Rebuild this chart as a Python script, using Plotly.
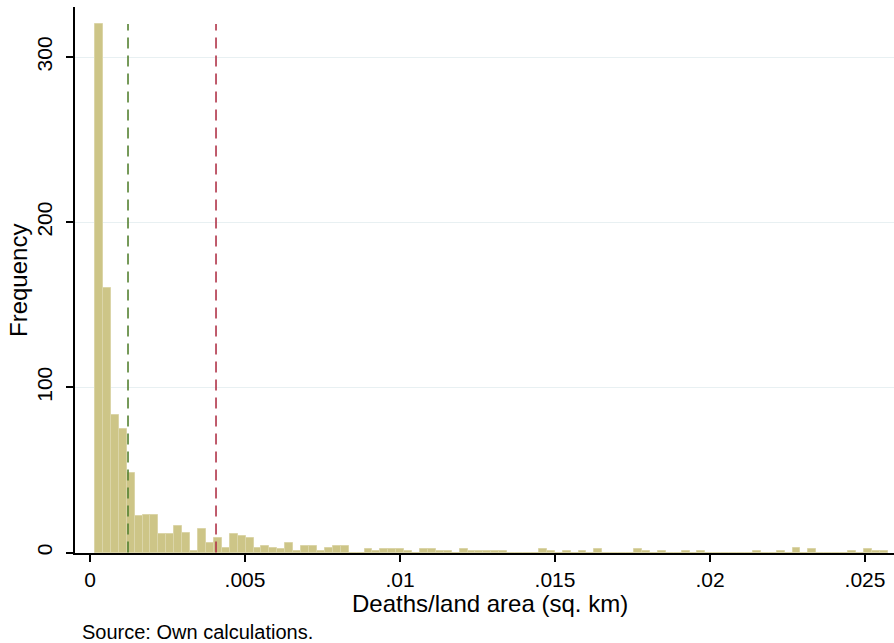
import plotly.graph_objects as go

# Histogram data
bin_start = 0.000161
bin_width = 0.0002557
counts = [320, 160, 83, 75, 48, 22, 23, 23, 11, 11,
          16, 12, 1, 14, 6, 9, 3, 11, 10, 9,
          3, 4, 3, 2, 6, 1, 4, 4, 1, 3,
          4, 4, 0, 0, 2, 1, 2, 2, 2, 1,
          0, 2, 2, 1, 1, 0, 2, 1, 1, 1,
          1, 1, 0, 0, 0, 0, 2, 1, 0, 1,
          0, 1, 0, 2, 0, 0, 0, 0, 2, 1,
          0, 1, 0, 0, 1, 0, 1, 0, 0, 0,
          0, 0, 0, 1, 0, 0, 1, 0, 3, 0,
          2, 0, 0, 0, 0, 1, 0, 2, 1, 1]
median_value = 0.001226
mean_value = 0.004065
x_tickvals = [0, 0.005, 0.01, 0.015, 0.02, 0.025]
x_ticktext = ["0", ".005", ".01", ".015", ".02", ".025"]
y_tickvals = [0, 100, 200, 300]
y_ticktext = ["0", "100", "200", "300"]

centers = [bin_start + bin_width * (i + 0.5) for i in range(len(counts))]
peak = max(counts)

FONT = "Liberation Sans, Arial, sans-serif"

fig = go.Figure()
fig.add_trace(go.Bar(
    x=centers, y=counts, width=[bin_width] * len(counts),
    marker=dict(color="rgb(205,197,135)",
                line=dict(color="rgb(219,213,168)", width=1)),
    showlegend=False, hoverinfo="x+y",
))
fig.add_trace(go.Scatter(
    x=[median_value, median_value], y=[0, peak], mode="lines",
    line=dict(color="rgb(85,130,50)", width=1.6, dash="11px,7px"),
    showlegend=False, hoverinfo="skip",
))
fig.add_trace(go.Scatter(
    x=[mean_value, mean_value], y=[0, peak], mode="lines",
    line=dict(color="rgb(176,52,72)", width=1.6, dash="11px,7px"),
    showlegend=False, hoverinfo="skip",
))

fig.update_layout(
    width=894, height=643,
    margin=dict(l=75, r=0, t=7, b=90),
    paper_bgcolor="white", plot_bgcolor="white",
    bargap=0,
    font=dict(family=FONT, color="black"),
    xaxis=dict(
        range=[-0.000484, 0.025935],
        tickvals=x_tickvals, ticktext=x_ticktext,
        ticks="outside", ticklen=7, tickwidth=1.5, tickcolor="black",
        showline=True, linecolor="black", linewidth=1.5,
        showgrid=False, zeroline=False,
        tickfont=dict(size=21, family=FONT, color="black"),
    ),
    yaxis=dict(
        range=[-0.3, 330.3],
        tickvals=y_tickvals, ticktext=y_ticktext,
        tickangle=-90,
        ticks="outside", ticklen=7, tickwidth=1.5, tickcolor="black",
        ticklabelstandoff=6,
        showline=True, linecolor="black", linewidth=1.5,
        showgrid=True, gridcolor="rgb(232,240,242)", gridwidth=1,
        zeroline=False,
        tickfont=dict(size=21, family=FONT, color="black"),
    ),
    annotations=[
        dict(text="Deaths/land area (sq. km)", xref="paper", yref="paper",
             x=0.5067, y=-0.0916, xanchor="center", yanchor="middle",
             showarrow=False, font=dict(size=24, family=FONT, color="black")),
        dict(text="Frequency", xref="paper", yref="paper",
             x=-0.0696, y=0.5, xanchor="center", yanchor="middle", textangle=-90,
             showarrow=False, font=dict(size=24, family=FONT, color="black")),
        dict(text="Source: Own calculations.", xref="paper", yref="paper",
             x=0.0061, y=-0.1447, xanchor="left", yanchor="middle",
             showarrow=False, font=dict(size=20, family=FONT, color="black")),
    ],
)

fig.write_html("out.html", config={"displayModeBar": False},
               post_script="document.body.style.margin='0';")
